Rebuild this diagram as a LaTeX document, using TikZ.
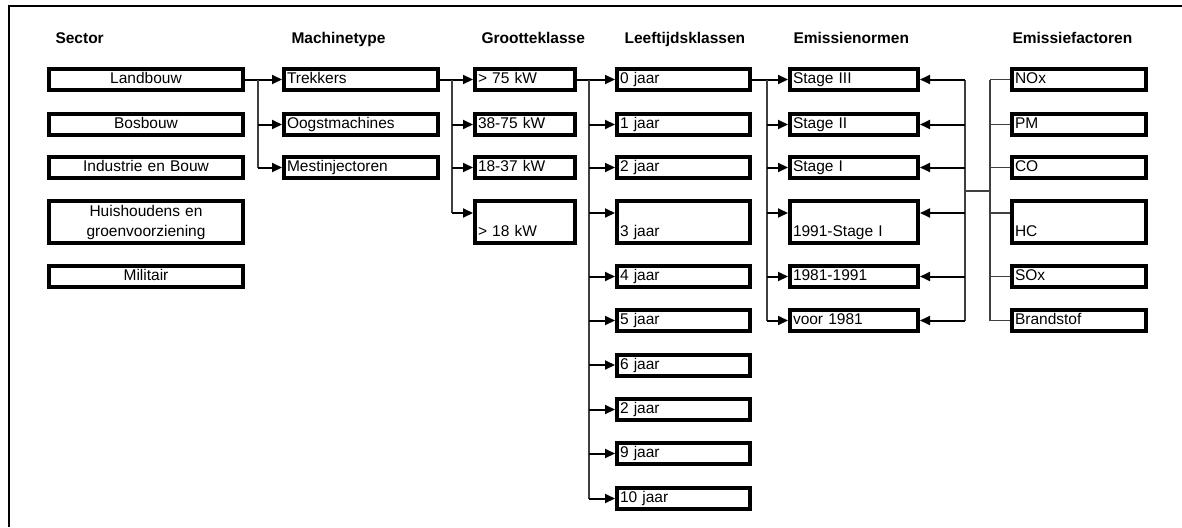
\documentclass[tikz,border=0pt]{standalone}
\usepackage{fontspec}
\setmainfont{Liberation Sans}
\usetikzlibrary{arrows.meta}

\begin{document}
\begin{tikzpicture}[x=1pt, y=-1pt,
    font=\fontsize{15.5}{20}\selectfont,
    box/.style={draw, line width=4pt, inner xsep=3pt, inner ysep=0pt,
                minimum height=21pt, align=left, text height=11pt, text depth=3pt},
    tallbox/.style={draw, line width=4pt, inner xsep=3pt, inner ysep=0pt,
                minimum height=42pt, align=left},
    sectbox/.style={text width=188pt, align=center},
    machbox/.style={text width=148pt},
    grootbox/.style={text width=94pt},
    leefbox/.style={text width=127pt},
    normbox/.style={text width=122pt},
    factbox/.style={text width=128pt},
    head/.style={font=\fontsize{15.5}{20}\selectfont\bfseries, anchor=base west},
    arr/.style={-{Triangle[length=10pt,width=9pt]}, line width=2pt},
    bus/.style={line width=1.2pt, black!75}]
  \useasboundingbox (0,0) rectangle (1182,527);
  \draw[line width=2pt] (9,527) -- (9,6) -- (1182,6);

  % column heads
  \node[head] (hs) at (52,44)   {Sector};
  \node[head] (hm) at (288,44)  {Machinetype};
  \node[head] (hg) at (478,44)  {Grootteklasse};
  \node[head] (hl) at (621,44)  {Leeftijdsklassen};
  \node[head] (hn) at (790,44)  {Emissienormen};
  \node[head] (hf) at (1009,44) {Emissiefactoren};

  % sector
  \node[box,sectbox] (s1) at (146,79.5)  {Landbouw};
  \node[box,sectbox] (s2) at (146,124.5) {Bosbouw};
  \node[box,sectbox] (s3) at (146,167.5) {Industrie en Bouw};
  \node[tallbox,sectbox] (s4) at (146,222) {\strut Huishoudens en\\\strut groenvoorziening};
  \node[box,sectbox] (s5) at (146,276.5) {Militair};

  % machinetype
  \node[box,machbox] (m1) at (361,79.5)  {Trekkers};
  \node[box,machbox] (m2) at (361,124.5) {Oogstmachines};
  \node[box,machbox] (m3) at (361,167.5) {Mestinjectoren};

  % grootteklasse
  \node[box,grootbox] (g1) at (525,79.5)  {> 75 kW};
  \node[box,grootbox] (g2) at (525,124.5) {38-75 kW};
  \node[box,grootbox] (g3) at (525,167.5) {18-37 kW};
  \node[tallbox,grootbox] (g4) at (525,222) {\strut\\\strut > 18 kW};

  % leeftijdsklassen
  \node[box,leefbox] (l1)  at (683.5,79.5)  {0 jaar};
  \node[box,leefbox] (l2)  at (683.5,124.5) {1 jaar};
  \node[box,leefbox] (l3)  at (683.5,167.5) {2 jaar};
  \node[tallbox,leefbox] (l4) at (683.5,222) {\strut\\\strut 3 jaar};
  \node[box,leefbox] (l5)  at (683.5,276.5) {4 jaar};
  \node[box,leefbox] (l6)  at (683.5,320.5) {5 jaar};
  \node[box,leefbox] (l7)  at (683.5,365)   {6 jaar};
  \node[box,leefbox] (l8)  at (683.5,409.5) {2 jaar};
  \node[box,leefbox] (l9)  at (683.5,453.5) {9 jaar};
  \node[box,leefbox] (l10) at (683.5,498.5) {10 jaar};

  % emissienormen
  \node[box,normbox] (n1) at (854,79.5)  {Stage III};
  \node[box,normbox] (n2) at (854,124.5) {Stage II};
  \node[box,normbox] (n3) at (854,167.5) {Stage I};
  \node[tallbox,normbox] (n4) at (854,222) {\strut\\\strut 1991-Stage I};
  \node[box,normbox] (n5) at (854,276.5) {1981-1991};
  \node[box,normbox] (n6) at (854,320.5) {voor 1981};

  % emissiefactoren
  \node[box,factbox] (f1) at (1079,79.5)  {NOx};
  \node[box,factbox] (f2) at (1079,124.5) {PM};
  \node[box,factbox] (f3) at (1079,167.5) {CO};
  \node[tallbox,factbox] (f4) at (1079,222) {\strut\\\strut HC};
  \node[box,factbox] (f5) at (1079,276.5) {SOx};
  \node[box,factbox] (f6) at (1079,320.5) {Brandstof};

  % entry points on the tall boxes
  \coordinate (g4in) at ([yshift=9pt]g4.west);
  \coordinate (l4in) at ([yshift=9pt]l4.west);
  \coordinate (n4in) at ([yshift=9pt]n4.west);
  \coordinate (n4out) at ([yshift=9pt]n4.east);
  \coordinate (f4in) at ([yshift=9pt]f4.west);

  % sector -> machinetype
  \coordinate (bm) at (258,79.5);
  \draw[arr] (s1.east) -- (m1.west);
  \draw[bus] (bm) -- (bm |- m3.west);
  \draw[arr] (bm |- m2.west) -- (m2.west);
  \draw[arr] (bm |- m3.west) -- (m3.west);

  % machinetype -> grootteklasse
  \coordinate (bg) at (452,79.5);
  \draw[arr] (m1.east) -- (g1.west);
  \draw[bus] (bg) -- (bg |- g4in);
  \draw[arr] (bg |- g2.west) -- (g2.west);
  \draw[arr] (bg |- g3.west) -- (g3.west);
  \draw[arr] (bg |- g4in) -- (g4in);

  % grootteklasse -> leeftijdsklassen
  \coordinate (bl) at (589,79.5);
  \draw[arr] (g1.east) -- (l1.west);
  \draw[bus] (bl) -- (bl |- l10.west);
  \draw[arr] (bl |- l4in) -- (l4in);
  \foreach \n in {l2,l3,l5,l6,l7,l8,l9,l10}
    \draw[arr] (bl |- \n.west) -- (\n.west);

  % leeftijdsklassen -> emissienormen
  \coordinate (bn) at (767,79.5);
  \draw[arr] (l1.east) -- (n1.west);
  \draw[bus] (bn) -- (bn |- n6.west);
  \draw[arr] (bn |- n4in) -- (n4in);
  \foreach \n in {n2,n3,n5,n6}
    \draw[arr] (bn |- \n.west) -- (\n.west);

  % emissiefactoren -> emissienormen
  \coordinate (br) at (965,79.5);
  \coordinate (bf) at (990,79.5);
  \coordinate (lk) at (965,191);
  \draw[bus] (br) -- (br |- n6.east);
  \draw[arr] (br |- n4out) -- (n4out);
  \foreach \n in {n1,n2,n3,n5,n6}
    \draw[arr] (br |- \n.east) -- (\n.east);
  \draw[bus] (lk) -- (lk -| bf);
  \draw[bus] (bf) -- (bf |- f6.west);
  \draw[bus] (bf |- f4in) -- (f4in);
  \foreach \n in {f1,f2,f3,f5,f6}
    \draw[bus] (bf |- \n.west) -- (\n.west);
\end{tikzpicture}
\end{document}
